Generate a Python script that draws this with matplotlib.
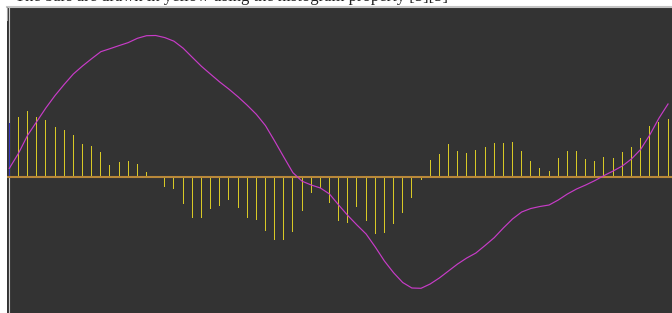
import matplotlib
matplotlib.use("Agg")
import matplotlib.pyplot as plt
import numpy as np

# ---- data ----
hist_values = [53.7, 60.3, 66, 60.3, 57, 50, 46.7, 42, 33, 30.7, 25, 12, 14.7, 16, 13.3, 5.3,
               0, -9.7, -11.7, -26.7, -41.3, -41.3, -32.3, -28.7, -23, -31.3, -41.3, -42.7,
               -54, -63.3, -63.3, -55.3, -33.7, -16.3, -11.3, -26.3, -43.7, -46, -30, -43.7,
               -57.3, -56.3, -47.3, -35.7, -20.7, -3.3, 16.7, 22.7, 33, 26, 24, 27, 30.5, 34,
               34, 35, 26, 16, 8.7, 6.3, 19, 26, 26, 18, 16, 20, 19, 25, 30.3, 38.7, 51, 55, 58]

line_y_px = [168.4, 153.4, 135.3, 121.6, 107.9, 95.5, 84.4, 74, 66, 58.7, 51.7, 48.7, 45.6,
             42.6, 38.3, 35.7, 35.5, 37.6, 41.2, 48.2, 57.3, 66.3, 74.2, 82, 89.1, 96.8,
             105.2, 114.3, 125.6, 141, 157, 172.7, 181.2, 185, 188, 194, 205, 215.5, 225,
             234, 247, 261, 272.7, 282.5, 288, 288.3, 284, 278, 271, 264, 258, 253, 245.5,
             237.7, 228, 219, 212, 208.5, 206.5, 205, 200, 194, 189, 185, 180.6, 175.6, 171,
             166, 159, 149.5, 135, 118.3, 104]
line_values = [177 - v for v in line_y_px]

caption = "The bars are drawn in yellow using the histogram property [5][5]"

# ---- figure ----
W, H = 672, 313
fig = plt.figure(figsize=(W / 100, H / 100), dpi=100, facecolor="white")

# caption mostly cut off at the top
fig.text(15 / W, 1 - 1.0 / H, caption, family="Liberation Serif", fontsize=12,
         va="baseline", ha="left", color="#222222")

# gray separator line at the top of the panel
fig.add_artist(plt.Line2D([7 / W, 1], [1 - 6.8 / H, 1 - 6.8 / H], color="#c4c4c4", lw=1.5))
fig.add_artist(plt.Line2D([7.3 / W, 7.3 / W], [1 - 6.8 / H, 1 - 20 / H], color="#a0a0a0", lw=0.8))

ax = fig.add_axes([7 / W, 0, (W - 7) / W, (H - 8) / H])
ax.set_facecolor("#333333")
for s in ax.spines.values():
    s.set_visible(False)
ax.set_xticks([])
ax.set_yticks([])

n = len(hist_values)
idx = np.arange(n)
px = 9.149  # pixels per bar step
ax.set_xlim((7 - 9.3) / px, (672 - 9.3) / px)
ax.set_ylim(177 - 313, 177 - 8)

# crosshair-like vertical line at first bar
ax.axvline(0, color="#c8c8c8", lw=0.8, zorder=1)

colors = ["#3434c0"] + ["#d8c926"] * (n - 1)
ax.bar(idx, hist_values, width=1.0 / px, color=colors, linewidth=0, zorder=2)

ax.axhline(0, color="#b8883a", lw=1.5, zorder=3)

ax.plot(idx, line_values, color="#c83cc8", lw=0.85, zorder=4, solid_joinstyle="round")

fig.savefig("out.png", dpi=100, facecolor="white")
